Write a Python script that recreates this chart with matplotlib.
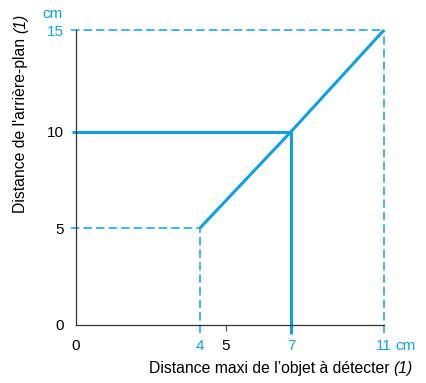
import numpy as np
import matplotlib
matplotlib.use("Agg")
import matplotlib.pyplot as plt

plt.rcParams['font.family'] = ['Liberation Sans', 'DejaVu Sans']

# data (schematic, non-linear axes)
x_ticks = [0, 4, 5, 7, 11]
x_tick_labels = ['0', '4', '5', '7', '11']
x_tick_blue = [False, True, False, True, True]
y_ticks = [0, 5, 10, 15]
y_tick_labels = ['0', '5', '10', '15']
y_tick_blue = [False, False, False, True]

curve_x = [4, 7, 11]
curve_y = [5, 10, 15]
ref_x = 7
ref_y = 10

# piecewise scales
x_knots = [-2, 0, 4, 5, 7, 11, 13]
x_pix = [-62, 0, 124.3, 150.3, 215.3, 308.3, 354.8]
y_knots = [-2, 0, 5, 10, 15, 17]
y_pix = [-39, 0, 97, 193.3, 295, 335.6]

def fwd_x(v):
    return np.interp(v, x_knots, x_pix)
def inv_x(v):
    return np.interp(v, x_pix, x_knots)
def fwd_y(v):
    return np.interp(v, y_knots, y_pix)
def inv_y(v):
    return np.interp(v, y_pix, y_knots)

blue = '#0FA0E0'
fs = 11
fs_lab = 11.3

fig = plt.figure(figsize=(4.27, 3.83), dpi=100)
ax = fig.add_axes([75.7/427, 58/383, 308.3/427, 295/383])
ax.set_xscale('function', functions=(fwd_x, inv_x))
ax.set_yscale('function', functions=(fwd_y, inv_y))
ax.set_xlim(0, 11)
ax.set_ylim(0, 15)

for s in ['top', 'right']:
    ax.spines[s].set_visible(False)
for s in ['left', 'bottom']:
    ax.spines[s].set_color('#333333')
    ax.spines[s].set_linewidth(0.9)

dash = dict(color=blue, lw=1.1, linestyle=(0, (5.5, 2.7)), clip_on=False)
# dashed guide lines
ax.plot([-0.16, curve_x[0]], [curve_y[0], curve_y[0]], **dash)
ax.plot([curve_x[0], curve_x[0]], [-0.42, curve_y[0]], **dash)
ax.plot([-0.16, curve_x[-1]], [curve_y[-1], curve_y[-1]], **dash)
ax.plot([curve_x[-1], curve_x[-1]], [-0.42, curve_y[-1]], **dash)

solid = dict(color=blue, lw=2.2, clip_on=False, solid_capstyle='butt')
ax.plot([-0.12, ref_x], [ref_y, ref_y], **solid)
ax.plot([ref_x, ref_x], [-0.46, ref_y], **solid)
ax.plot(curve_x, curve_y, color=blue, lw=2.2, clip_on=False, solid_capstyle='butt', zorder=3)

ax.set_xticks(x_ticks)
ax.set_xticklabels(x_tick_labels)
ax.set_yticks(y_ticks)
ax.set_yticklabels(y_tick_labels)
ax.minorticks_off()
ax.tick_params(axis='x', length=4, width=0.9, color='#555555', pad=6.3, labelsize=fs)
ax.tick_params(axis='y', length=0, pad=8.5, labelsize=fs)
for t, lab, b in zip(ax.xaxis.get_major_ticks(), ax.get_xticklabels(), x_tick_blue):
    if b or lab.get_text() == '0':
        t.tick1line.set_visible(False)
    lab.set_color(blue if b else 'black')
for lab, b in zip(ax.get_yticklabels(), y_tick_blue):
    lab.set_color(blue if b else 'black')

fig.text(53/427, 1 - 14/383, 'cm', color=blue, fontsize=fs, ha='center', va='center')
fig.text(395/427, 1 - 346/383, 'cm', color=blue, fontsize=fs, ha='left', va='center')

# x label: plain part + italic "(1)"
xl_it = fig.text(413/427, 1 - 369/383, '(1)', fontsize=fs_lab, style='italic',
                 ha='right', va='center')
ax.annotate('Distance maxi de l\u2019objet \u00e0 d\u00e9tecter ', xy=(0, 0.5), xycoords=xl_it,
            ha='right', va='center', fontsize=fs_lab, annotation_clip=False)

# y label: rotated, italic "(1)" at the top
yl_it = fig.text(21/427, 1 - 14/383, '(1)', fontsize=fs_lab, style='italic', rotation=90,
                 ha='center', va='top')
ax.annotate("Distance de l'arri\u00e8re-plan ", xy=(0.5, 0), xycoords=yl_it, rotation=90,
            ha='center', va='top', fontsize=fs_lab, annotation_clip=False)

fig.savefig('out.png', dpi=100)
